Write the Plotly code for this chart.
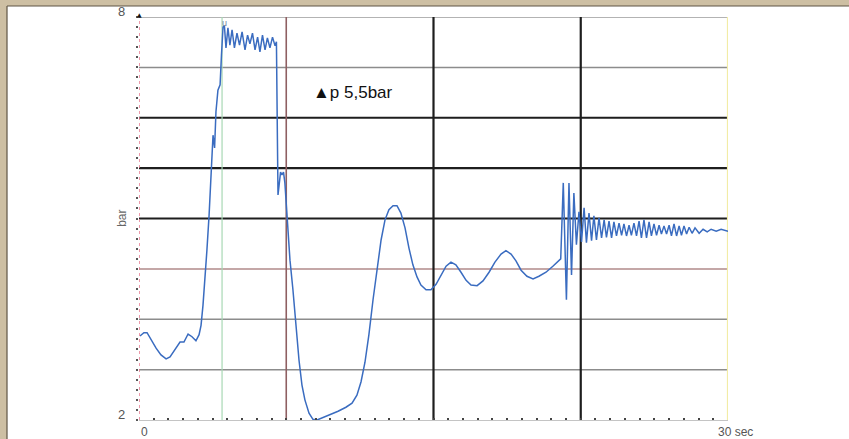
import plotly.graph_objects as go

# ---- data (time in s, pressure in bar) ----
time_s = [0.05, 0.25, 0.41, 0.61, 0.87, 1.12, 1.38, 1.58, 1.83, 2.09, 2.29, 2.50, 2.70, 2.90, 3.06, 3.16,
          3.26, 3.36, 3.46, 3.57, 3.64, 3.72, 3.77, 3.85, 3.92, 4.02, 4.13, 4.20, 4.28,
          4.35, 4.43, 4.53, 4.63, 4.74, 4.86, 4.99, 5.12, 5.25, 5.40, 5.53, 5.65, 5.78, 5.91, 6.04, 6.16,
          6.29, 6.42, 6.54, 6.67, 6.80, 6.93, 7.00,
          7.03, 7.05, 7.08, 7.13, 7.21, 7.28, 7.36, 7.43, 7.54, 7.69, 7.84, 8.00, 8.15, 8.30, 8.45, 8.66,
          8.86, 9.07, 9.32, 9.73, 10.14, 10.54, 10.85, 11.10, 11.31, 11.51, 11.71, 11.92, 12.12, 12.33,
          12.53, 12.73, 12.94, 13.14, 13.34, 13.55, 13.75, 13.95, 14.16, 14.36, 14.62, 14.87, 15.13, 15.38,
          15.64, 15.89, 16.14, 16.40, 16.66, 16.91, 17.22, 17.52, 17.83, 18.13, 18.44, 18.69, 18.95, 19.20,
          19.46, 19.76, 20.07, 20.37, 20.73, 21.08, 21.33, 21.48,
          21.61, 21.77, 21.90, 22.03, 22.15, 22.28, 22.41, 22.54, 22.67, 22.79, 22.92, 23.05, 23.17, 23.30,
          23.43, 23.56, 23.69, 23.81, 23.94, 24.07, 24.19, 24.32, 24.45, 24.58, 24.70, 24.83, 24.96, 25.08,
          25.21, 25.34, 25.47, 25.59, 25.72, 25.85, 25.98, 26.10, 26.23, 26.36, 26.49, 26.61, 26.74, 26.87,
          27.00, 27.12, 27.25, 27.38, 27.51, 27.63, 27.76, 27.89, 28.02, 28.17, 28.32, 28.53, 28.73, 28.94,
          29.14, 29.40, 29.65, 30.00]
pressure_bar = [3.25, 3.30, 3.30, 3.19, 3.07, 2.97, 2.91, 2.94, 3.04, 3.16, 3.16, 3.28, 3.24, 3.18, 3.27, 3.41,
                3.71, 4.08, 4.53, 5.05, 5.50, 6.02, 6.24, 6.05, 6.59, 6.91, 6.99, 7.43, 7.85,
                7.87, 7.54, 7.84, 7.58, 7.81, 7.54, 7.76, 7.58, 7.78, 7.51, 7.73, 7.60, 7.76, 7.51, 7.70, 7.48,
                7.73, 7.51, 7.69, 7.54, 7.70, 7.57, 7.63,
                7.06, 6.17, 5.35, 5.50, 5.69, 5.65, 5.69, 5.53, 5.05, 4.38, 3.94, 3.34, 2.89, 2.52, 2.30, 2.10,
                2.01, 2.00, 2.03, 2.09, 2.13, 2.19, 2.25, 2.37, 2.57, 2.86, 3.27, 3.79, 4.26, 4.68,
                4.98, 5.13, 5.19, 5.19, 5.08, 4.86, 4.56, 4.31, 4.13, 4.01, 3.94, 3.94, 4.02, 4.16,
                4.29, 4.35, 4.31, 4.20, 4.08, 4.01, 4.00, 4.07, 4.20, 4.35, 4.47, 4.52, 4.47, 4.37,
                4.23, 4.14, 4.10, 4.14, 4.20, 4.29, 4.35, 4.40,
                5.53, 3.79, 5.53, 4.16, 5.38, 4.61, 5.10, 4.65, 5.16, 4.64, 5.08, 4.67, 5.04, 4.68,
                5.01, 4.71, 4.98, 4.72, 4.96, 4.71, 4.95, 4.74, 4.93, 4.75, 4.92, 4.74, 4.90, 4.75,
                4.93, 4.74, 4.96, 4.71, 4.98, 4.71, 4.95, 4.74, 4.92, 4.75, 4.90, 4.77, 4.89, 4.77,
                4.90, 4.74, 4.92, 4.74, 4.89, 4.75, 4.89, 4.77, 4.87, 4.78, 4.86, 4.78, 4.84, 4.80,
                4.84, 4.81, 4.84, 4.81]

# grid lines (value, colour, width)
h_grid_vals = [8.0, 7.25, 6.5, 5.75, 5.0, 4.25, 3.5, 2.75]
h_grid_cols = ["#9a9a9a", "#8c8c8c", "#1e1e1e", "#1e1e1e", "#1e1e1e", "#b08a8a", "#8c8c8c", "#8c8c8c"]
h_grid_wid = [1.5, 1.5, 2.2, 2.2, 2.2, 1.5, 1.5, 1.5]
v_grid_vals = [4.23, 7.5, 15.0, 22.5, 30.0]
v_grid_cols = ["#a8d8b4", "#8e5f62", "#1e1e1e", "#1e1e1e", "#f2eca6"]
v_grid_wid = [1.2, 1.6, 2.2, 2.2, 2.2]

y_tick_labels = [("8", 8.0), ("2", 2.0)]
x_tick_labels = [("0", 0.0), ("30 sec", 30.0)]

fig = go.Figure()

shapes = []
# white page panel over beige frame
shapes.append(dict(type="rect", xref="paper", yref="paper", x0=-0.2241, x1=1.25, y0=-0.08, y1=1.0273,
                   fillcolor="white", line=dict(width=0), layer="below"))
shapes.append(dict(type="line", xref="paper", yref="paper", x0=-0.2241, x1=1.25, y0=1.0273, y1=1.0273,
                   line=dict(color="#5e5444", width=1.2), layer="below"))
shapes.append(dict(type="line", xref="paper", yref="paper", x0=-0.2241, x1=-0.2241, y0=-0.08, y1=1.0273,
                   line=dict(color="#5e5444", width=1.2), layer="below"))

for v, c, w in zip(h_grid_vals, h_grid_cols, h_grid_wid):
    shapes.append(dict(type="line", xref="x", yref="y", x0=0, x1=30, y0=v, y1=v,
                       line=dict(color=c, width=w), layer="below"))
for v, c, w in zip(v_grid_vals, v_grid_cols, v_grid_wid):
    shapes.append(dict(type="line", xref="x", yref="y", x0=v, x1=v, y0=2, y1=8,
                       line=dict(color=c, width=w), layer="below"))
# pink dotted y axis
shapes.append(dict(type="line", xref="x", yref="y", x0=0, x1=0, y0=2, y1=8,
                   line=dict(color="#e8788e", width=1.5, dash="dot"), layer="above"))

fig.add_trace(go.Scatter(x=time_s, y=pressure_bar, mode="lines",
                         line=dict(color="#3a6cc0", width=1.5), hoverinfo="skip", showlegend=False))

annotations = []
for txt, v in y_tick_labels:
    annotations.append(dict(x=-0.02, xref="paper", y=v, yref="y", text=txt, showarrow=False,
                            xanchor="right", yanchor="middle", yshift=6,
                            font=dict(family="Arial, Liberation Sans", size=13, color="#555555")))
annotations.append(dict(x=0.0, xref="x", y=0, yref="paper", text=x_tick_labels[0][0], showarrow=False,
                        xanchor="left", yanchor="top", yshift=-3,
                        font=dict(family="Arial, Liberation Sans", size=12, color="#555555")))
annotations.append(dict(x=30.0, xref="x", y=0, yref="paper", text=x_tick_labels[1][0], showarrow=False,
                        xanchor="left", yanchor="top", xshift=-12, yshift=-3,
                        font=dict(family="Arial, Liberation Sans", size=12, color="#555555")))
annotations.append(dict(x=-0.03, xref="paper", y=5.0, yref="y", text="bar", showarrow=False, textangle=-90,
                        xanchor="center", yanchor="middle",
                        font=dict(family="Arial, Liberation Sans", size=12, color="#666666")))
annotations.append(dict(x=8.76, xref="x", y=6.88, yref="y", text="▲p 5,5bar", showarrow=False,
                        xanchor="left", yanchor="middle",
                        font=dict(family="Arial, Liberation Sans", size=17, color="#111111")))
annotations.append(dict(x=0, xref="x", y=8.0, yref="y", text="▲", showarrow=False,
                        xanchor="center", yanchor="bottom", yshift=-3,
                        font=dict(family="DejaVu Sans", size=6, color="#111111")))
annotations.append(dict(x=4.35, xref="x", y=8.0, yref="y", text="u", showarrow=False,
                        xanchor="center", yanchor="top", yshift=1,
                        font=dict(family="Arial, Liberation Sans", size=9, color="#6d7f9c")))

fig.update_layout(
    width=849, height=439,
    margin=dict(l=139, r=121, t=17, b=19),
    paper_bgcolor="#cdbfa3",
    plot_bgcolor="white",
    shapes=shapes,
    annotations=annotations,
    xaxis=dict(range=[0, 30], showgrid=False, zeroline=False, showticklabels=False,
               showline=True, linecolor="#c4c4c4", linewidth=1,
               tickmode="linear", tick0=0, dtick=0.75, ticks="inside", ticklen=2, tickwidth=2,
               tickcolor="#444444"),
    yaxis=dict(range=[2, 8], showgrid=False, zeroline=False, showticklabels=False, showline=False,
               tickmode="linear", tick0=2, dtick=0.15, ticks="outside", ticklen=2, tickwidth=2,
               tickcolor="#555555"),
)

fig.write_html("out.html", config={"displayModeBar": False},
               post_script="document.body.style.margin='0';document.body.style.overflow='hidden';"
                           "document.body.style.background='#cdbfa3';")
